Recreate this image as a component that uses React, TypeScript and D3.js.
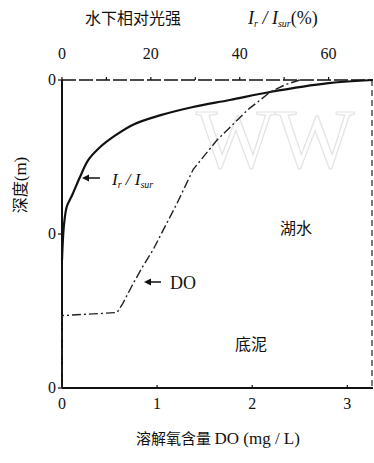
import * as d3 from "d3";

// I_r / I_sur (%) vs depth
const lightPct = [70, 60, 46.8, 37.8, 29.5, 22, 16, 12, 8.6, 5.9, 4.05, 2.25, 1.1, 0.45, 0.2, 0];
const lightDepth = [0, 0.02, 0.078, 0.13, 0.175, 0.23, 0.29, 0.36, 0.435, 0.52, 0.63, 0.75, 0.82, 0.94, 1.04, 1.17];

// dissolved oxygen (mg/L) vs depth
const doVal = [2.5, 2.35, 2.19, 1.95, 1.63, 1.38, 1.21, 0.96, 0.85, 0.75, 0.64, 0.58, 0, 0];
const doDepth = [0, 0.03, 0.078, 0.195, 0.39, 0.58, 0.8, 1.1, 1.21, 1.32, 1.45, 1.51, 1.53, 2];

const topTicks = [0, 20, 40, 60];
const topMinor = [0, 10, 20, 30, 40, 50, 60];
const bottomTicks = [0, 1, 2, 3];
const depthTicks = [0, 1, 2];
const depthLabels = ["0", "0", "0"];

const W = 374, H = 463;
const L = 62, R = 373, T = 80, B = 388;

const serif = "'Liberation Serif', 'DejaVu Serif', serif";
const cjk = "'Noto Sans CJK SC', sans-serif";

export default function App() {
  const xTop = d3.scaleLinear().domain([0, 70]).range([L, R]);
  const xBot = d3.scaleLinear().domain([0, 3.27]).range([L, R]);
  const y = d3.scaleLinear().domain([0, 2]).range([T, B]);

  const lightLine = d3.line<number>()
    .x((d) => xTop(d))
    .y((_, i) => y(lightDepth[i]))
    .curve(d3.curveCatmullRom.alpha(0.5))(lightPct) as string;

  const doLine = d3.line<number>()
    .x((d) => xBot(d))
    .y((_, i) => y(doDepth[i]))
    .curve(d3.curveLinear)(doVal) as string;

  return (
    <svg width={W} height={H} style={{ position: "absolute", left: 0, top: 0, background: "#fff" }}>
      {/* faint watermark */}
      <text x={196} y={168} fontFamily={serif} fontSize={84} fill="none" stroke="#e4e4e4" strokeWidth={1.2}>WW</text>

      {/* frame */}
      <line x1={L} x2={L} y1={T} y2={B} stroke="#111" strokeWidth={2} />
      <line x1={L} x2={R} y1={B} y2={B} stroke="#111" strokeWidth={2} />
      <line x1={L} x2={R} y1={T} y2={T} stroke="#111" strokeWidth={1.6} strokeDasharray="14 3" />
      <line x1={R - 1} x2={R - 1} y1={T} y2={B} stroke="#222" strokeWidth={1.2} strokeDasharray="6 4" />

      {/* top axis */}
      {topMinor.map((t) => (
        <line key={"tm" + t} x1={xTop(t)} x2={xTop(t)} y1={T} y2={T - 3} stroke="#111" strokeWidth={1.2} />
      ))}
      {topTicks.map((t) => (
        <text key={"tt" + t} x={xTop(t)} y={T - 21} textAnchor="middle" fontFamily={serif} fontSize={16} fill="#111">{t}</text>
      ))}

      {/* bottom axis */}
      {bottomTicks.map((t) => (
        <g key={"bt" + t}>
          <line x1={xBot(t)} x2={xBot(t)} y1={B} y2={B - 3} stroke="#111" strokeWidth={1.2} />
          <text x={xBot(t)} y={B + 21} textAnchor="middle" fontFamily={serif} fontSize={16} fill="#111">{t}</text>
        </g>
      ))}

      {/* left axis */}
      {depthTicks.map((t, i) => (
        <g key={"dt" + t}>
          <line x1={L - 4} x2={L} y1={y(t)} y2={y(t)} stroke="#111" strokeWidth={1.2} />
          <text x={L - 6} y={y(t) + 5} textAnchor="end" fontFamily={serif} fontSize={16} fill="#111">{depthLabels[i]}</text>
        </g>
      ))}

      {/* curves */}
      <path d={lightLine} fill="none" stroke="#111" strokeWidth={2.2} />
      <path d={doLine} fill="none" stroke="#222" strokeWidth={1.4} strokeDasharray="9 3 2 3" />

      {/* annotations */}
      <line x1={100} x2={84} y1={178} y2={178} stroke="#111" strokeWidth={1.5} />
      <path d="M82,178 L89,174.5 L89,181.5 Z" fill="#111" />
      <text x={112} y={185} fontFamily={serif} fontStyle="italic" fontSize={17} fill="#111">
        I<tspan fontSize={10} dy={3}>r</tspan><tspan dy={-3}> / I</tspan><tspan fontSize={10} dy={3}>sur</tspan>
      </text>

      <line x1={161} x2={147} y1={282} y2={282} stroke="#111" strokeWidth={1.5} />
      <path d="M144,282 L151,278.5 L151,285.5 Z" fill="#111" />
      <text x={170} y={289} fontFamily={serif} fontSize={18} fill="#111">DO</text>

      <text x={296} y={234} textAnchor="middle" fontFamily={cjk} fontSize={16} fill="#111">湖水</text>
      <text x={251} y={350} textAnchor="middle" fontFamily={cjk} fontSize={16} fill="#111">底泥</text>

      {/* titles */}
      <text x={85} y={24} fontFamily={cjk} fontSize={16} fill="#111">水下相对光强</text>
      <text x={248} y={24} fontFamily={serif} fontStyle="italic" fontSize={18} fill="#111">
        I<tspan fontSize={10} dy={3}>r</tspan><tspan dy={-3}> / I</tspan><tspan fontSize={10} dy={3}>sur</tspan>
        <tspan dy={-3} fontStyle="normal">(%)</tspan>
      </text>
      <text x={218} y={444} textAnchor="middle" fontFamily={cjk} fontSize={15} fill="#111">
        溶解氧含量 <tspan fontFamily={serif} fontSize={17}>DO (mg / L)</tspan>
      </text>
      <text transform="translate(26,185) rotate(-90)" textAnchor="middle" fontFamily={cjk} fontSize={16} fill="#111">
        深度<tspan fontFamily={serif} fontSize={17}>(m)</tspan>
      </text>
    </svg>
  );
}
